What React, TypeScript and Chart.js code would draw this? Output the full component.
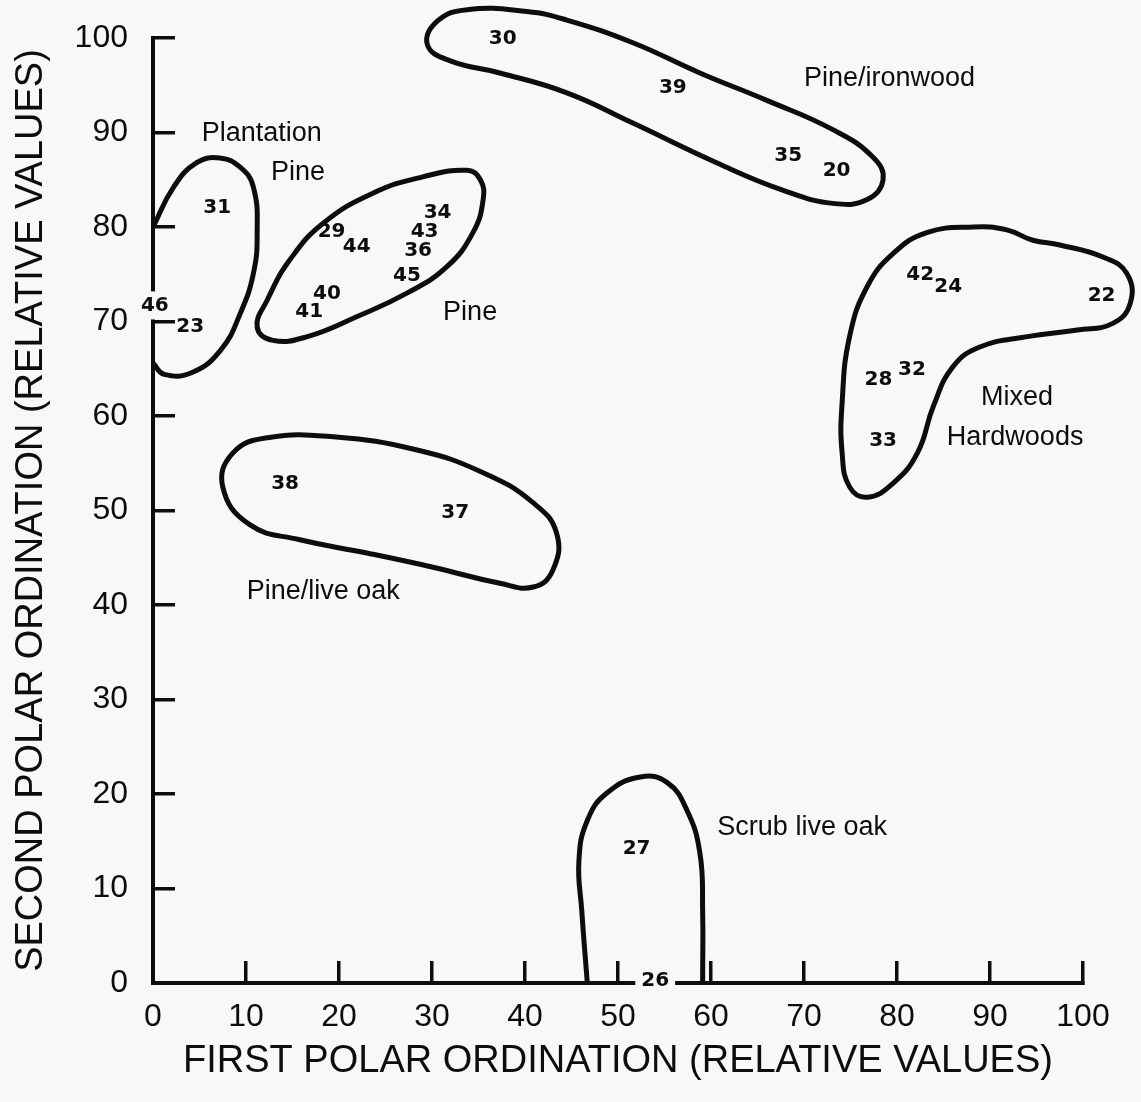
import React, { useEffect, useRef } from "react";
import { Chart, registerables } from "chart.js";

Chart.register(...registerables);

// ---------- data ----------
const xTicks = [0, 10, 20, 30, 40, 50, 60, 70, 80, 90, 100];
const yTicks = [0, 10, 20, 30, 40, 50, 60, 70, 80, 90, 100];

const xTitle = "FIRST POLAR ORDINATION (RELATIVE VALUES)";
const yTitle = "SECOND POLAR ORDINATION (RELATIVE VALUES)";

const standIds = ["30", "39", "35", "20", "31", "29", "44", "34", "43", "36", "45", "40", "41", "46", "23", "42", "24", "22", "28", "32", "33", "38", "37", "27", "26"];
const standX = [37.6, 55.9, 68.3, 73.5, 6.9, 19.2, 21.9, 30.6, 29.2, 28.5, 27.3, 18.7, 16.8, 0.2, 4.0, 82.5, 85.5, 102.0, 78.0, 81.6, 78.5, 14.2, 32.5, 52.0, 54.0];
const standY = [99.9, 94.7, 87.5, 85.9, 82.0, 79.5, 77.9, 81.5, 79.5, 77.5, 74.8, 72.9, 71.0, 71.7, 69.4, 74.9, 73.7, 72.7, 63.8, 64.9, 57.4, 52.8, 49.8, 14.2, 0.2];
const axisBreakIds = ["46", "26"];

const groupNames = ["Pine/ironwood", "Plantation", "Pine", "Pine", "Mixed", "Hardwoods", "Pine/live oak", "Scrub live oak"];
const groupX = [79.2, 11.7, 15.6, 34.1, 92.9, 92.7, 18.3, 69.8];
const groupY = [95.7, 89.9, 85.8, 71.0, 62.0, 57.7, 41.4, 16.4];

// outlines (closed unless noted)
const ironwoodX = [29.5, 30.6, 33.8, 40.2, 44.5, 51.6, 58.8, 66.0, 73.1, 77.4, 78.5, 76.8, 73.1, 67.7, 60.6, 51.6, 44.5, 37.3, 31.9];
const ironwoodY = [99.3, 101.8, 103.0, 102.8, 101.9, 99.5, 96.3, 93.4, 90.3, 87.4, 85.0, 82.9, 82.5, 83.9, 86.8, 91.0, 94.2, 96.3, 97.6];

// open: ends on the y axis
const plantationX = [0, 2.2, 4.7, 7.2, 9.4, 10.8, 11.2, 10.8, 9.4, 7.3, 4.2, 1.2, 0];
const plantationY = [80.0, 84.2, 86.8, 87.3, 86.3, 84.2, 79.4, 75.1, 70.9, 67.0, 64.6, 64.4, 65.6];

const pineX = [11.2, 12.3, 14.7, 18.3, 23.7, 29.0, 33.8, 35.2, 35.5, 34.4, 31.6, 27.3, 21.9, 16.6, 12.9];
const pineY = [69.4, 72.3, 76.5, 80.4, 83.6, 85.3, 86.0, 85.0, 82.9, 79.4, 75.8, 73.0, 70.5, 68.4, 68.0];

const hardwoodX = [88.2, 83.2, 79.6, 76.8, 74.9, 74.1, 74.1, 74.9, 76.8, 79.6, 82.2, 83.9, 86.0, 88.9, 94.0, 99.4, 103.2, 105.1, 104.7, 102.2, 97.5, 94.6, 91.8];
const hardwoodY = [80.0, 79.4, 77.2, 73.7, 68.4, 61.4, 56.1, 52.5, 51.4, 52.9, 56.1, 61.0, 65.2, 67.3, 68.4, 69.1, 69.8, 72.0, 75.1, 76.8, 78.1, 78.6, 79.7];

const liveOakX = [7.5, 8.6, 12.3, 19.4, 28.4, 35.5, 40.9, 43.4, 43.0, 40.9, 37.3, 30.1, 23.0, 15.8, 10.4];
const liveOakY = [52.5, 56.1, 57.7, 57.8, 56.4, 54.0, 50.8, 47.6, 43.7, 41.9, 42.3, 44.0, 45.5, 46.9, 48.5];

// open: ends on the x axis
const scrubX = [46.7, 46.1, 45.8, 46.7, 48.8, 52.4, 55.3, 57.4, 58.8, 59.1, 59.1];
const scrubY = [0, 7.7, 13.0, 17.2, 20.1, 21.8, 21.2, 18.3, 13.8, 7.7, 0];

// ---------- styling ----------
const BG = "#f8f8f8";
const INK = "#0d0d0d";
const SANS = '"Liberation Sans", Arial, sans-serif';

const pts = (xs: number[], ys: number[]) => xs.map((x, i) => ({ x, y: ys[i] }));

const outline = (label: string, xs: number[], ys: number[], closed: boolean) => ({
  label,
  data: pts(xs, ys),
  showLine: true,
  closedLoop: closed,
  spanGaps: true,
  borderColor: INK,
  borderWidth: 5,
  tension: 0.45,
  capBezierPoints: false,
  pointRadius: 0,
  pointHoverRadius: 0,
  clip: false as any,
});

const annotationPlugin = {
  id: "ordinationAnnotations",
  beforeDraw(chart: any) {
    const { ctx, width, height } = chart;
    ctx.save();
    ctx.fillStyle = BG;
    ctx.fillRect(0, 0, width, height);
    ctx.restore();
  },
  afterDatasetUpdate(chart: any, args: any) {
    const ds = chart.data.datasets[args.index];
    if (ds && ds.closedLoop && args.meta.dataset) {
      args.meta.dataset._loop = true;
      args.meta.dataset._fullLoop = true;
    }
  },
  afterDatasetsDraw(chart: any) {
    const { ctx } = chart;
    const xs = chart.scales.x;
    const ys = chart.scales.y;
    ctx.save();
    const idx = chart.data.datasets.findIndex((d: any) => d.label === "stands");
    const meta = chart.getDatasetMeta(idx);
    ctx.font = `bold 20px "DejaVu Sans", sans-serif`;
    ctx.textAlign = "center";
    ctx.textBaseline = "middle";
    meta.data.forEach((el: any, i: number) => {
      const id = standIds[i];
      if (axisBreakIds.includes(id)) {
        const w = ctx.measureText(id).width;
        ctx.fillStyle = BG;
        ctx.fillRect(el.x - w / 2 - 6, el.y - 14, w + 12, 28);
      }
      ctx.fillStyle = INK;
      ctx.fillText(id, el.x, el.y);
    });
    ctx.font = `27px ${SANS}`;
    groupNames.forEach((name, i) => {
      ctx.fillStyle = INK;
      ctx.fillText(name, xs.getPixelForValue(groupX[i]), ys.getPixelForValue(groupY[i]));
    });
    ctx.restore();
  },
};

export default function App() {
  const ref = useRef<HTMLCanvasElement>(null);

  useEffect(() => {
    const canvas = ref.current;
    if (!canvas) return;
    const chart = new Chart(canvas, {
      type: "scatter",
      data: {
        datasets: [
          outline("Pine/ironwood", ironwoodX, ironwoodY, true),
          outline("Plantation Pine", plantationX, plantationY, false),
          outline("Pine", pineX, pineY, true),
          outline("Mixed Hardwoods", hardwoodX, hardwoodY, true),
          outline("Pine/live oak", liveOakX, liveOakY, true),
          outline("Scrub live oak", scrubX, scrubY, false),
          {
            label: "stands",
            data: pts(standX, standY),
            showLine: false,
            pointRadius: 0,
            pointHoverRadius: 0,
            clip: false as any,
          } as any,
        ] as any,
      },
      options: {
        animation: false,
        responsive: false,
        events: [],
        layout: { padding: { top: 38, right: 58, left: 0, bottom: 0 } },
        elements: { line: { capBezierPoints: false } },
        plugins: { legend: { display: false }, tooltip: { enabled: false } },
        scales: {
          x: {
            type: "linear",
            min: 0,
            max: 100,
            afterBuildTicks: (axis: any) => {
              axis.ticks = xTicks.map((v) => ({ value: v }));
            },
            afterFit: (s: any) => {
              s.height = 119;
              s.paddingLeft = 0;
              s.paddingRight = 0;
            },
            ticks: {
              font: { family: SANS, size: 32 },
              color: INK,
              padding: 37,
              maxRotation: 0,
              autoSkip: false,
            },
            grid: { drawOnChartArea: false, drawTicks: true, tickLength: -22, color: INK, lineWidth: 3.5 },
            border: { display: true, color: INK, width: 4 },
            title: {
              display: true,
              text: xTitle,
              color: INK,
              font: { family: SANS, size: 38 },
              padding: { top: 0, bottom: 18 },
            },
          },
          y: {
            type: "linear",
            min: 0,
            max: 100,
            afterBuildTicks: (axis: any) => {
              axis.ticks = yTicks.map((v) => ({ value: v }));
            },
            afterFit: (s: any) => {
              s.width = 153;
              s.paddingTop = 0;
              s.paddingBottom = 0;
            },
            ticks: {
              font: { family: SANS, size: 32 },
              color: INK,
              padding: 47,
              autoSkip: false,
            },
            grid: { drawOnChartArea: false, drawTicks: true, tickLength: -22, color: INK, lineWidth: 3.5 },
            border: { display: true, color: INK, width: 4 },
            title: {
              display: true,
              text: yTitle,
              color: INK,
              font: { family: SANS, size: 38 },
              padding: { top: 9, bottom: 0 },
            },
          },
        },
      } as any,
      plugins: [annotationPlugin],
    });
    return () => chart.destroy();
  }, []);

  return (
    <div style={{ position: "absolute", left: 0, top: 0, width: 1141, height: 1102, background: BG }}>
      <canvas ref={ref} width={1141} height={1102} style={{ display: "block" }} />
    </div>
  );
}
